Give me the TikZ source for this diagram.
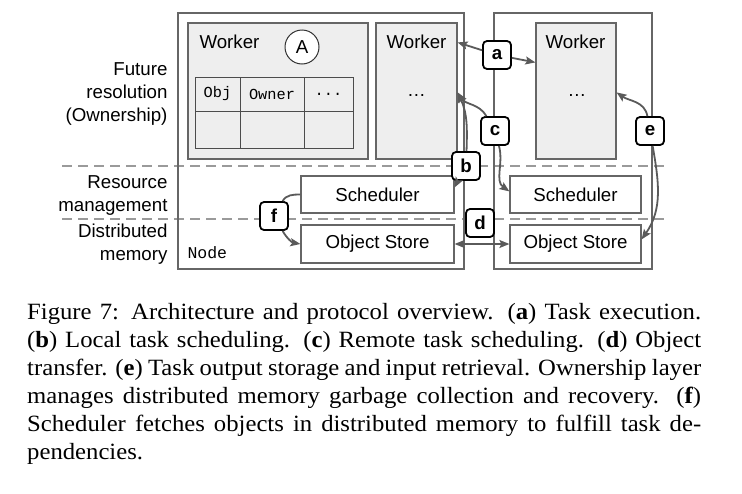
\documentclass[tikz,border=0pt]{standalone}
\usepackage{fontspec}
\setmainfont{Liberation Serif}
\setsansfont{Liberation Sans}
\setmonofont{Liberation Mono}
\newfontfamily\capfont{Liberation Serif}[FakeStretch=1.06]
\usetikzlibrary{arrows.meta,calc,positioning}
\definecolor{linegray}{HTML}{666666}
\definecolor{arrowgray}{HTML}{5A5A5A}
\definecolor{boxfill}{HTML}{EEEEEE}
\definecolor{dashgray}{HTML}{9A9A9A}

\begin{document}
\begin{tikzpicture}[x=1pt,y=-1pt,
    font=\sffamily\fontsize{18.7}{23}\selectfont,
    box/.style={draw=linegray,line width=1.2pt,inner sep=0pt},
    workerbox/.style={box,fill=boxfill},
    compbox/.style={box,fill=white},
    cell/.style={draw=black!70,line width=0.9pt,inner sep=0pt,font=\ttfamily\fontsize{15.3}{18}\selectfont},
    tag/.style={draw=black,line width=1.8pt,rounded corners=4pt,fill=white,minimum size=28pt,inner sep=0pt,font=\sffamily\bfseries\fontsize{18.7}{22}\selectfont},
    conn/.style={draw=arrowgray,line width=1.8pt},
    arr/.style={conn,-{Stealth[length=10pt,width=8pt,inset=2pt]}},
    biarr/.style={conn,{Stealth[length=10pt,width=8pt,inset=2pt]}-{Stealth[length=10pt,width=8pt,inset=2pt]}},
    layer/.style={anchor=east,align=right},
    sep/.style={draw=dashgray,line width=1.3pt,dash pattern=on 10pt off 6pt}]
                \useasboundingbox (0,0) rectangle (742,493);
                \draw[sep] (62,166) -- (670,166);
                \draw[sep] (62,219) -- (670,219);
                \node[box,minimum width=286pt,minimum height=256pt] (node1) at (321,141) {};
                \node[box,minimum width=158pt,minimum height=256pt] (node2) at (573,141) {};
                \node[workerbox,minimum width=180pt,minimum height=136pt] (worker1) at (278,91) {};
                \node[workerbox,minimum width=81pt,minimum height=136pt] (worker2) at (416.5,91) {};
                \node[workerbox,minimum width=80pt,minimum height=136pt] (worker3) at (576,91) {};
                \node[anchor=base west] (w1name) at (196,48.5) {Worker};
                \node[anchor=base west] (w2name) at (383,48.5) {Worker};
                \node[anchor=base west] (w3name) at (542,48.5) {Worker};
                \node[anchor=base] (w2dots) at (416.5,96) {\ldots};
                \node[anchor=base] (w3dots) at (577,96) {\ldots};
                \node[circle,draw=black!80,line width=1pt,fill=white,minimum size=34pt,inner sep=0pt] (owner) at (302,47) {A};
                \node[cell,minimum width=45pt,minimum height=34pt] (objcell) at (217.5,94) {Obj};
                \node[cell,minimum width=64pt,minimum height=34pt] (ownercell) at (272,94) {Owner};
                \node[cell,minimum width=49pt,minimum height=34pt] (morecell) at (328.5,94) {...};
                \node[cell,minimum width=45pt,minimum height=37pt] (objrow) at (217.5,129.5) {};
                \node[cell,minimum width=64pt,minimum height=37pt] (ownerrow) at (272,129.5) {};
                \node[cell,minimum width=49pt,minimum height=37pt] (morerow) at (328.5,129.5) {};
                \node[compbox,minimum width=153pt,minimum height=37pt] (sched1) at (377.5,194.5) {Scheduler};
                \node[compbox,minimum width=153pt,minimum height=38pt] (store1) at (377.5,244) {Object Store};
                \node[compbox,minimum width=131pt,minimum height=37pt] (sched2) at (575.5,194.5) {Scheduler};
                \node[compbox,minimum width=131pt,minimum height=38pt] (store2) at (575.5,244) {Object Store};
                \node[layer] (ownlayer) at (171,94) {Future\\resolution\\(Ownership)};
                \node[layer] (reslayer) at (171,196) {Resource\\management};
                \node[layer] (memlayer) at (171,244) {Distributed\\memory};
                \node[anchor=base west,font=\ttfamily\fontsize{16.5}{20}\selectfont] (nodename) at (184,258.5) {Node};
                \node[tag] (a) at (497,55) {a};
                \node[tag] (b) at (466,166) {b};
                \node[tag] (c) at (495,131) {c};
                \node[tag] (d) at (480,223) {d};
                \node[tag] (e) at (650,131) {e};
                \node[tag] (f) at (274,216) {f};
                \coordinate (w2in) at ($(worker2.north east)+(0,70)$);
                \coordinate (w3in) at ($(worker3.north east)+(0,70)$);
                \draw[arr] (a) -- ($(worker2.north east)+(0,20)$);
                \draw[arr] (a) -- ($(worker3.north west)+(0,40)$);
                \draw[arr] (b) to[out=88,in=-65] (w2in);
                \draw[arr] (b) -- ($(sched1.north east)+(0,12)$);
                \draw[arr] (c) to[out=120,in=-58] (w2in);
                \draw[arr] (c) to[out=-75,in=145] ($(sched2.north west)+(0,16)$);
                \draw[biarr] (store1.east) -- (store2.west);
                \draw[arr] (e) to[out=100,in=-35] (w3in);
                \draw[arr] (e) to[out=-80,in=55] ($(store2.north east)+(0,15)$);
                \draw[conn] (sched1.west) to[out=180,in=60] (f);
                \draw[arr] (f) to[out=-60,in=170] (store1.west);
                \node[anchor=north west,inner sep=0pt,text width=674pt,align=justify,font=\capfont\fontsize{23.3}{28}\selectfont] (caption) at (27,303) {Figure 7: Architecture and protocol overview. (\textbf{a}) Task execution.\linebreak
                (\textbf{b}) Local task scheduling. (\textbf{c}) Remote task scheduling. (\textbf{d}) Object\linebreak
                transfer. (\textbf{e}) Task output storage and input retrieval. Ownership layer\linebreak
                manages distributed memory garbage collection and recovery. (\textbf{f})\linebreak
                Scheduler fetches objects in distributed memory to fulfill task de-\linebreak
                pendencies.};
            \end{tikzpicture}
\end{document}
